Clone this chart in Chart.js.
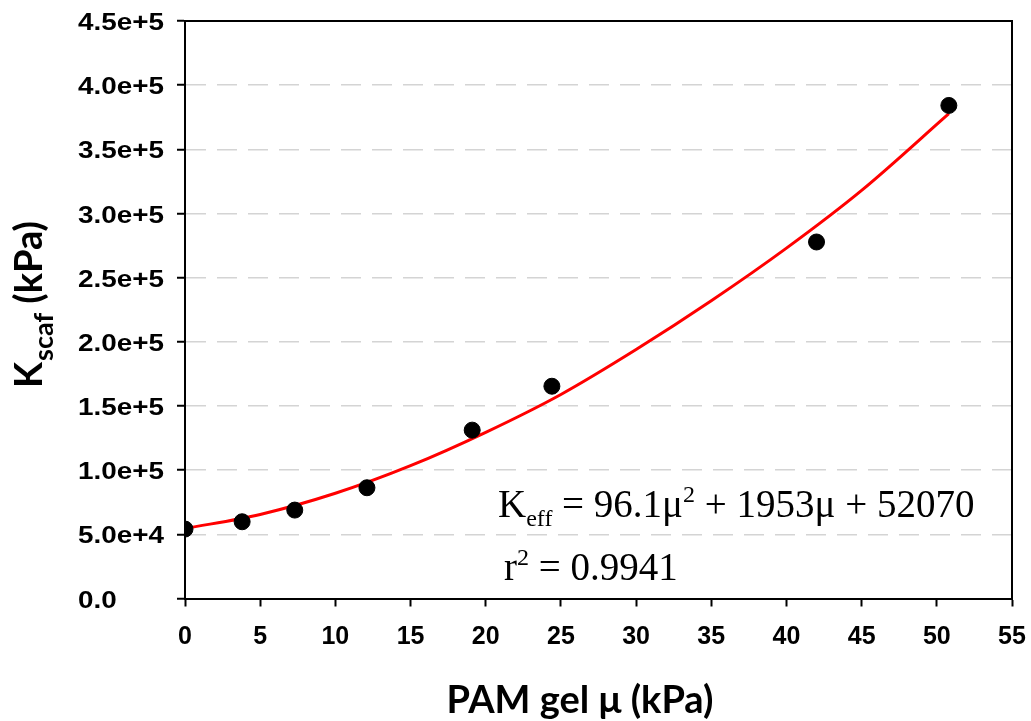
<!DOCTYPE html>
<html>
<head>
<meta charset="utf-8">
<script src="https://cdn.jsdelivr.net/npm/chart.js@4/dist/chart.umd.min.js"></script>
<style>
  html, body { margin: 0; padding: 0; background: #fff; }
</style>
</head>
<body>
<canvas id="fitChart" width="1031" height="721"></canvas>
<script>
// Scaffold stiffness measured against PAM gel shear modulus
const gelMu = [0, 3.8, 7.3, 12.1, 19.1, 24.4, 42.0, 50.8];
const kScaf = [54100, 59800, 68900, 86300, 131200, 165400, 277800, 384200];

// Fitted curve
const fitMu = [0, 5, 10, 15, 20, 25, 30, 35, 40, 45, 50.8];
const fitK = [54500, 65500, 82000, 103500, 129500, 159000, 194000, 232000, 273000, 318000, 377800];

const xTicks = [0, 5, 10, 15, 20, 25, 30, 35, 40, 45, 50, 55];
const yTicks = [0, 50000, 100000, 150000, 200000, 250000, 300000, 350000, 400000, 450000];
const yTickLabels = ['0.0', '5.0e+4', '1.0e+5', '1.5e+5', '2.0e+5', '2.5e+5', '3.0e+5', '3.5e+5', '4.0e+5', '4.5e+5'];

const sansFont = '"Liberation Sans", Arial, sans-serif';
const titleFont = 'Lato, "Open Sans", sans-serif';
const mathFont = '"Liberation Serif", "Times New Roman", serif';

// pieces set one after another on a shared baseline (sub/superscripts smaller)
function drawRun(ctx, parts, x, y) {
  for (const p of parts) {
    const kind = p.kind || 'main';
    const size = kind === 'main' ? 39 : 24;
    const dy = kind === 'sub' ? 9 : kind === 'sup' ? -15 : 0;
    ctx.font = size + 'px ' + mathFont;
    ctx.fillText(p.text, x, y + dy);
    x += ctx.measureText(p.text).width;
  }
}

const decorations = {
  id: 'decorations',
  afterDraw(chart) {
    const ctx = chart.ctx;
    const area = chart.chartArea;
    const yScale = chart.scales.y;

    ctx.save();
    ctx.fillStyle = '#000';
    ctx.strokeStyle = '#000';

    // top and right edges of the plot box
    ctx.lineWidth = 2;
    ctx.beginPath();
    ctx.moveTo(area.left, area.top);
    ctx.lineTo(area.right, area.top);
    ctx.lineTo(area.right, area.bottom);
    ctx.stroke();

    // y tick labels, left aligned and drawn wide
    ctx.font = 'bold 24px ' + sansFont;
    ctx.textAlign = 'left';
    ctx.textBaseline = 'alphabetic';
    yTicks.forEach((v, i) => {
      const py = yScale.getPixelForValue(v);
      ctx.save();
      ctx.translate(78, py + 9);
      ctx.scale(1.16, 1);
      ctx.fillText(yTickLabels[i], 0, 0);
      ctx.restore();
    });

    // y axis title with subscript
    ctx.save();
    ctx.translate(42, 388);
    ctx.rotate(-Math.PI / 2);
    ctx.font = 'bold 38px ' + titleFont;
    ctx.fillText('K', 0, 0);
    let w = ctx.measureText('K').width + 1;
    ctx.font = 'bold 27px ' + titleFont;
    ctx.fillText('scaf', w, 11);
    w += ctx.measureText('scaf').width;
    ctx.font = 'bold 38px ' + titleFont;
    ctx.fillText(' (kPa)', w, 0);
    ctx.restore();

    // x axis title
    ctx.font = 'bold 38px ' + titleFont;
    ctx.textAlign = 'center';
    ctx.fillText('PAM gel \u03bc (kPa)', 580, 713);

    // fit equation and r squared
    ctx.textAlign = 'left';
    drawRun(ctx, [
      { text: 'K' }, { text: 'eff', kind: 'sub' },
      { text: ' = 96.1\u03bc' }, { text: '2', kind: 'sup' },
      { text: ' + 1953\u03bc + 52070' }
    ], 498, 517);
    drawRun(ctx, [
      { text: 'r' }, { text: '2', kind: 'sup' }, { text: ' = 0.9941' }
    ], 504, 580);

    ctx.restore();
  }
};

new Chart(document.getElementById('fitChart'), {
  type: 'scatter',
  data: {
    datasets: [
      {
        label: 'Measured',
        data: gelMu.map((x, i) => ({ x: x, y: kScaf[i] })),
        backgroundColor: '#000',
        borderColor: '#000',
        pointRadius: 8,
        showLine: false,
        order: 0
      },
      {
        label: 'Fit',
        data: fitMu.map((x, i) => ({ x: x, y: fitK[i] })),
        showLine: true,
        borderColor: '#ff0000',
        borderWidth: 3,
        pointRadius: 0,
        cubicInterpolationMode: 'monotone',
        order: 1
      }
    ]
  },
  options: {
    responsive: false,
    animation: false,
    layout: { padding: { top: 21, right: 19, left: 0, bottom: 0 } },
    plugins: {
      legend: { display: false },
      tooltip: { enabled: false }
    },
    scales: {
      x: {
        type: 'linear',
        min: 0,
        max: 55,
        afterBuildTicks: s => { s.ticks = xTicks.map(v => ({ value: v })); },
        afterFit: s => {
          s.height = 122.5;
          s.paddingLeft = 0;
          s.paddingRight = 0;
        },
        ticks: {
          color: '#000',
          padding: 16,
          maxRotation: 0,
          font: { family: sansFont, weight: 'bold', size: 25 }
        },
        grid: { drawOnChartArea: false, tickColor: '#000', tickLength: 8, tickWidth: 2 },
        border: { color: '#000', width: 2 }
      },
      y: {
        type: 'linear',
        min: 0,
        max: 450000,
        afterBuildTicks: s => { s.ticks = yTicks.map(v => ({ value: v })); },
        afterFit: s => {
          s.width = 185;
          s.paddingTop = 0;
          s.paddingBottom = 0;
        },
        ticks: { display: false },
        grid: { color: '#d4d4d4', lineWidth: 1.5, tickColor: '#000', tickLength: 8, tickWidth: 2 },
        border: { color: '#000', width: 2, dash: [20, 11] }
      }
    }
  },
  plugins: [decorations]
});
</script>
</body>
</html>
